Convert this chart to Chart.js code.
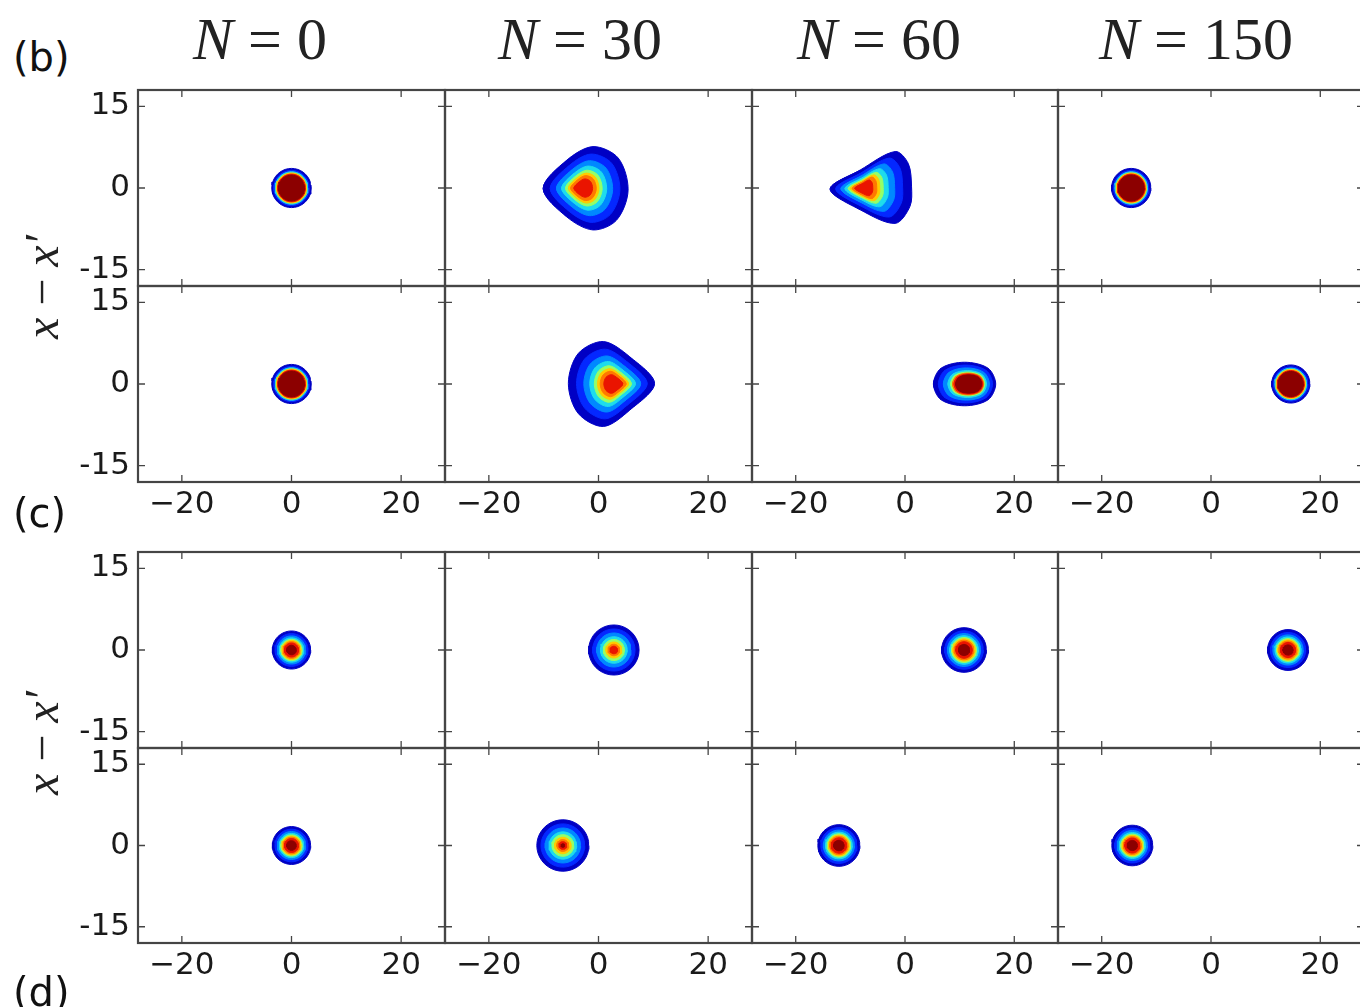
<!DOCTYPE html>
<html>
<head>
<meta charset="utf-8">
<script src="https://cdn.jsdelivr.net/npm/chart.js@4.4.1/dist/chart.umd.min.js"></script>
<style>
  body { margin: 0; background: #fff; width: 1360px; height: 1007px; overflow: hidden; position: relative; }
  .box { position: absolute; }
  .title { position: absolute; width: 300px; text-align: center; font-family: 'Liberation Serif', serif; font-size: 60px; line-height: 60px; color: #222; white-space: nowrap; }
  .letter { position: absolute; font-family: 'DejaVu Sans', sans-serif; font-size: 40px; line-height: 48px; color: #111; }
  .ylab { position: absolute; width: 200px; text-align: center; font-family: 'Liberation Serif', serif; font-style: italic; font-size: 48px; line-height: 48px; color: #222; transform: rotate(-90deg); white-space: nowrap; }
</style>
</head>
<body>
<script>
// column titles and tick values
const nValues = ['0', '30', '60', '150'];
const xTicks = [-20, 0, 20];
const yTicks = [-15, 0, 15];
const xRange = [-28, 28];
const yRange = [-18, 18];

// jet-like contour colours, outer -> inner
const palette = ['#0000c4', '#0428ff', '#0088ff', '#1edcec', '#94ff68', '#ffcc00', '#ff7800', '#ea1400', '#8c0000'];

// contour profiles: [fraction of outer contour, colour index]
const profileFlat = [[1, 0], [0.9, 1], [0.83, 3], [0.77, 5], [0.71, 7], [0.66, 8]];
const profileBroad = [[1, 0], [0.82, 1], [0.66, 2], [0.53, 3], [0.43, 4], [0.36, 5], [0.3, 6], [0.22, 7]];
const profileOval = [[1, 0], [0.87, 1], [0.74, 2], [0.62, 3], [0.55, 4], [0.5, 6], [0.46, 7], [0.42, 8]];
const profileGauss = [[1, 0], [0.86, 1], [0.74, 2], [0.64, 3], [0.56, 4], [0.5, 5], [0.44, 6], [0.37, 7], [0.25, 8]];
const profileWide = [[1, 0], [0.84, 1], [0.68, 2], [0.53, 3], [0.42, 4], [0.32, 5], [0.23, 6], [0.15, 7]];
const profileWideCore = [[1, 0], [0.84, 1], [0.68, 2], [0.53, 3], [0.42, 4], [0.32, 5], [0.23, 6], [0.15, 7], [0.07, 8]];

// outer contours read off the non-round blobs (x, y)
const outlineB30 = [[-10.1, -0.1], [-5.8, -5.3], [-1.0, -7.7], [3.3, -5.9], [5.4, -0.4], [3.6, 5.5], [-1.0, 7.6], [-5.8, 5.1]];
const outlineB60 = [[-13.7, -0.2], [-8.2, -4.0], [-1.8, -6.5], [0.9, -3.4], [1.2, 0.2], [0.6, 4.5], [-1.8, 6.7], [-8.2, 3.3]];
const outlineC30 = [[10.2, 0.1], [5.7, -4.8], [0.9, -7.8], [-3.7, -5.4], [-5.5, 0.1], [-3.7, 5.6], [0.9, 7.8], [5.7, 5.0]];
const outlineC60 = [[5.2, 0], [6.6, -2.9], [10.9, -4.0], [15.2, -2.9], [16.6, 0], [15.2, 2.9], [10.9, 4.0], [6.6, 2.9]];

// per row: peak position, outer shape (radius or outline), profile
const row1PeakX = [0, -2.9, -7.9, -14.6];
const row2PeakX = [0, 2.8, 12.2, 14.6];
const row3PeakX = [0, 2.8, 10.8, 14.1];
const row4PeakX = [0, -6.5, -12.1, -14.4];
const row1Shape = [3.6, outlineB30, outlineB60, 3.6];
const row2Shape = [3.6, outlineC30, outlineC60, 3.5];
const row3Shape = [3.5, 4.6, 4.1, 3.75];
const row4Shape = [3.5, 4.75, 3.85, 3.75];
const row1Profile = [profileFlat, profileBroad, profileBroad, profileFlat];
const row2Profile = [profileFlat, profileBroad, profileOval, profileFlat];
const row3Profile = [profileGauss, profileWide, profileGauss, profileGauss];
const row4Profile = [profileGauss, profileWideCore, profileGauss, profileGauss];

const rows = [
  { peaks: row1PeakX, shapes: row1Shape, profiles: row1Profile },
  { peaks: row2PeakX, shapes: row2Shape, profiles: row2Profile },
  { peaks: row3PeakX, shapes: row3Shape, profiles: row3Profile },
  { peaks: row4PeakX, shapes: row4Shape, profiles: row4Profile }
];

// panel frame positions on the page
const plotLeft = [138, 445, 752, 1058];
const plotWidth = [307, 307, 306, 306];
const plotTop = [90, 286, 552, 748];
const plotHeight = [196, 196, 196, 195];
const bottomRows = [1, 3];
const PAD = 4;

function outlinePoints(peakX, shape) {
  if (typeof shape === 'number') {
    const pts = [];
    for (let i = 0; i < 40; i++) {
      const a = i / 40 * Math.PI * 2;
      pts.push({ x: peakX + shape * Math.cos(a), y: shape * Math.sin(a) });
    }
    return pts.concat([pts[0]]);
  }
  const pts = shape.map(([x, y]) => ({ x, y }));
  // wrap around one extra point on each side so the smoothed outline has no seam
  return [pts[pts.length - 1]].concat(pts, [pts[0], pts[1]]);
}

function blobDatasets(peakX, shape, profile) {
  const outline = outlinePoints(peakX, shape);
  return profile.map(([f, c], i) => ({
    data: outline.map(p => ({ x: peakX + f * (p.x - peakX), y: f * p.y })),
    showLine: true,
    fill: 'shape',
    backgroundColor: palette[c],
    borderColor: palette[c],
    borderWidth: 1,
    pointRadius: 0,
    tension: typeof shape === 'number' ? 0 : 0.32,
    order: profile.length - i
  }));
}

const frameTicks = {
  id: 'frameTicks',
  afterDraw(chart) {
    const { ctx, chartArea: a, scales: { x, y } } = chart;
    ctx.save();
    ctx.strokeStyle = '#454545';
    ctx.lineWidth = 1.3;
    ctx.beginPath();
    xTicks.forEach(v => {
      const px = x.getPixelForValue(v);
      ctx.moveTo(px, a.top); ctx.lineTo(px, a.top + 7);
      ctx.moveTo(px, a.bottom); ctx.lineTo(px, a.bottom - 7);
    });
    yTicks.forEach(v => {
      const py = y.getPixelForValue(v);
      ctx.moveTo(a.left, py); ctx.lineTo(a.left + 7, py);
      ctx.moveTo(a.right, py); ctx.lineTo(a.right - 7, py);
    });
    ctx.stroke();
    ctx.lineWidth = 2.2;
    ctx.strokeRect(a.left, a.top, a.right - a.left, a.bottom - a.top);
    ctx.restore();
  }
};

const tickFont = { family: 'DejaVu Sans', size: 31 };

function noOverflow(s) {
  s.paddingTop = 0; s.paddingBottom = 0; s.paddingLeft = 0; s.paddingRight = 0;
}

rows.forEach((row, r) => {
  const isBottom = bottomRows.includes(r);
  row.peaks.forEach((peakX, c) => {
    const isLeft = c === 0;
    const leftExtra = isLeft ? plotLeft[0] : PAD;
    const bottomExtra = isBottom ? 50 : PAD;
    const w = plotWidth[c] + leftExtra + PAD;
    const h = plotHeight[r] + PAD + bottomExtra;
    const box = document.createElement('div');
    box.className = 'box';
    box.style.left = (plotLeft[c] - leftExtra) + 'px';
    box.style.top = (plotTop[r] - PAD) + 'px';
    box.style.width = w + 'px';
    box.style.height = h + 'px';
    const canvas = document.createElement('canvas');
    box.appendChild(canvas);
    document.body.appendChild(box);

    new Chart(canvas, {
      type: 'scatter',
      data: { datasets: blobDatasets(peakX, row.shapes[c], row.profiles[c]) },
      options: {
        responsive: true,
        maintainAspectRatio: false,
        animation: false,
        events: [],
        layout: { padding: { top: PAD, right: PAD, left: isLeft ? 0 : PAD, bottom: isBottom ? 0 : PAD } },
        plugins: { legend: { display: false }, tooltip: { enabled: false } },
        scales: {
          x: {
            type: 'linear', min: xRange[0], max: xRange[1],
            display: isBottom,
            grid: { display: false, drawTicks: false },
            border: { display: false },
            afterBuildTicks: s => { s.ticks = xTicks.map(v => ({ value: v })); },
            afterFit: s => { s.height = isBottom ? 50 : 0; noOverflow(s); },
            ticks: {
              color: '#1a1a1a', font: tickFont, padding: 4, maxRotation: 0,
              callback: v => v < 0 ? '\u2212' + Math.abs(v) : String(v)
            }
          },
          y: {
            type: 'linear', min: yRange[0], max: yRange[1],
            display: isLeft,
            grid: { display: false, drawTicks: false },
            border: { display: false },
            afterBuildTicks: s => { s.ticks = yTicks.map(v => ({ value: v })); },
            afterFit: s => { s.width = isLeft ? plotLeft[0] : 0; noOverflow(s); },
            ticks: { color: '#1a1a1a', font: tickFont, padding: 8, callback: v => String(v) }
          }
        }
      },
      plugins: [frameTicks]
    });
  });
});

// column titles
const titleCenters = [260, 580, 879, 1196];
nValues.forEach((n, i) => {
  const d = document.createElement('div');
  d.className = 'title';
  d.style.left = (titleCenters[i] - 150) + 'px';
  d.style.top = '9px';
  d.innerHTML = '<i>N</i> = ' + n;
  document.body.appendChild(d);
});

// panel letters
[['(b)', 33], ['(c)', 489], ['(d)', 968]].forEach(([t, top]) => {
  const d = document.createElement('div');
  d.className = 'letter';
  d.style.left = '13px';
  d.style.top = top + 'px';
  d.textContent = t;
  document.body.appendChild(d);
});

// y axis labels
[287, 743].forEach(cy => {
  const d = document.createElement('div');
  d.className = 'ylab';
  d.style.left = (42 - 100) + 'px';
  d.style.top = (cy - 24) + 'px';
  d.innerHTML = 'x <span style="font-style:normal">\u2212</span> x\u2032';
  document.body.appendChild(d);
});
</script>
</body>
</html>
